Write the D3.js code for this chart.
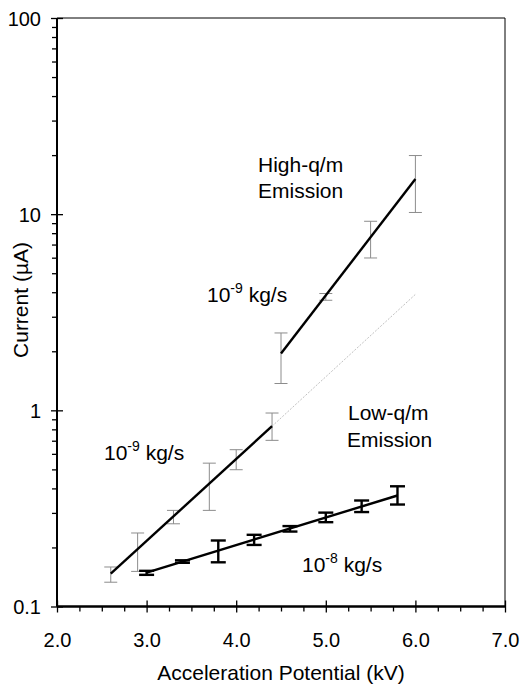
<!DOCTYPE html>
<html><head><meta charset="utf-8">
<script src="https://cdn.jsdelivr.net/npm/d3@7"></script>
<style>body{margin:0;background:#fff}svg{display:block}text{font-family:"Liberation Sans",Arial,sans-serif;fill:#000}</style>
</head><body>
<script>
// Low-q/m emission, 1e-9 kg/s (gray error bars)
const lowQ9X  = [2.6, 2.9, 3.3, 3.7, 4.0, 4.4];
const lowQ9Lo = [0.133, 0.151, 0.264, 0.309, 0.498, 0.703];
const lowQ9Hi = [0.159, 0.237, 0.309, 0.538, 0.630, 0.969];
const lowQ9Fit = [[2.6, 0.147], [4.4, 0.83]];
const lowQ9Ext = [[4.4, 0.83], [6.0, 3.9]];
// High-q/m emission, 1e-9 kg/s (gray error bars)
const highQ9X  = [4.5, 5.0, 5.5, 6.0];
const highQ9Lo = [1.37, 3.64, 5.98, 10.2];
const highQ9Hi = [2.48, 3.94, 9.2, 19.9];
const highQ9Fit = [[4.5, 1.95], [6.0, 15.1]];
// Low-q/m emission, 1e-8 kg/s (black error bars)
const lowQ8X  = [3.0, 3.4, 3.8, 4.2, 4.6, 5.0, 5.4, 5.8];
const lowQ8Lo = [0.145, 0.167, 0.168, 0.206, 0.241, 0.269, 0.303, 0.331];
const lowQ8Hi = [0.152, 0.172, 0.217, 0.232, 0.257, 0.301, 0.347, 0.410];
const lowQ8Fit = [[3.0, 0.149], [5.8, 0.368]];

const xTicks = [2, 3, 4, 5, 6, 7];
const xMinor = [2.25,2.5,2.75,3.25,3.5,3.75,4.25,4.5,4.75,5.25,5.5,5.75,6.25,6.5,6.75];
const yTicks = [0.1, 1, 10, 100];
const yTickLabels = ["0.1", "1", "10", "100"];
const yMinor = [0.2,0.3,0.4,0.5,0.6,0.7,0.8,0.9,2,3,4,5,6,7,8,9,20,30,40,50,60,70,80,90];

const W = 521, H = 684;
const L = 57, R = 505, T = 18, B = 606.5;
const svg = d3.select("body").append("svg").attr("width", W).attr("height", H);
const x = d3.scaleLinear().domain([2, 7]).range([L, R]);
const y = d3.scaleLog().domain([0.1, 100]).range([B, T]);

// frame
svg.append("line").attr("x1", L).attr("x2", R).attr("y1", T).attr("y2", T).attr("stroke", "#000").attr("stroke-width", 1);
svg.append("line").attr("x1", R).attr("x2", R).attr("y1", T).attr("y2", B).attr("stroke", "#000").attr("stroke-width", 1);

// x axis
const gx = svg.append("g").attr("transform", `translate(0,${B})`);
gx.call(d3.axisBottom(x).tickValues(xMinor).tickSize(5).tickFormat(""));
gx.append("g").call(d3.axisBottom(x).tickValues(xTicks).tickSize(6).tickFormat(d3.format(".1f")))
  .call(g => g.selectAll(".tick line").attr("y1", -6));
gx.selectAll(".domain").attr("stroke-width", 2).attr("d", `M${L},0H${R}`);
gx.selectAll(".tick line").attr("stroke", "#000").attr("stroke-width", 1.3);
gx.selectAll(".tick text").attr("font-size", 20).attr("y", 0).attr("dy", 0).attr("transform", "translate(0,40)")
  .style("font-family", '"Liberation Sans",Arial,sans-serif');

// y axis
const gy = svg.append("g").attr("transform", `translate(${L},0)`);
gy.call(d3.axisLeft(y).tickValues(yMinor).tickSize(5).tickFormat(""));
gy.append("g").call(d3.axisLeft(y).tickValues(yTicks).tickSize(6).tickFormat((d, i) => yTickLabels[i]))
  .call(g => g.selectAll(".tick line").attr("x1", 6));
gy.selectAll(".domain").attr("stroke-width", 2).attr("d", `M0,${T}V${B}`);
gy.selectAll(".tick line").attr("stroke", "#000").attr("stroke-width", 1.3);
gy.selectAll(".tick text").attr("font-size", 20).attr("x", -16).attr("dy", "0.36em")
  .style("font-family", '"Liberation Sans",Arial,sans-serif');

// titles
svg.append("text").attr("x", (L + R) / 2 + 0).attr("y", 680).attr("text-anchor", "middle").attr("font-size", 21)
  .text("Acceleration Potential (kV)");
svg.append("text").attr("transform", "translate(28,300) rotate(-90)").attr("text-anchor", "middle").attr("font-size", 21)
  .text("Current (µA)");

const line = d3.line().x(d => x(d[0])).y(d => y(d[1]));

function errBars(xs, lo, hi, color, sw, cap) {
  const g = svg.append("g").attr("stroke", color).attr("stroke-width", sw).attr("fill", "none");
  xs.forEach((v, i) => {
    g.append("line").attr("x1", x(v)).attr("x2", x(v)).attr("y1", y(lo[i])).attr("y2", y(hi[i]));
    g.append("line").attr("x1", x(v) - cap).attr("x2", x(v) + cap).attr("y1", y(lo[i])).attr("y2", y(lo[i]));
    g.append("line").attr("x1", x(v) - cap).attr("x2", x(v) + cap).attr("y1", y(hi[i])).attr("y2", y(hi[i]));
  });
}

errBars(lowQ9X, lowQ9Lo, lowQ9Hi, "#8c8c8c", 1, 6.5);
errBars(highQ9X, highQ9Lo, highQ9Hi, "#8c8c8c", 1, 6.5);
svg.append("path").attr("d", line(lowQ9Ext)).attr("stroke", "#b0b0b0").attr("stroke-width", 0.8)
  .attr("stroke-dasharray", "2,1.5").attr("fill", "none");
svg.append("path").attr("d", line(lowQ9Fit)).attr("stroke", "#000").attr("stroke-width", 2.4).attr("fill", "none");
svg.append("path").attr("d", line(highQ9Fit)).attr("stroke", "#000").attr("stroke-width", 2.4).attr("fill", "none");
errBars(lowQ8X, lowQ8Lo, lowQ8Hi, "#000", 2.4, 7.5);
svg.append("path").attr("d", line(lowQ8Fit)).attr("stroke", "#000").attr("stroke-width", 2.4).attr("fill", "none");

// annotations
function rateLabel(px, py, exp) {
  const t = svg.append("text").attr("x", px).attr("y", py).attr("font-size", 21);
  t.append("tspan").text("10");
  t.append("tspan").attr("font-size", 14).attr("dy", -9).text(exp);
  t.append("tspan").attr("dy", 9).text(" kg/s");
}
svg.append("text").attr("x", 258).attr("y", 172).attr("font-size", 21).text("High-q/m");
svg.append("text").attr("x", 258).attr("y", 198).attr("font-size", 21).text("Emission");
svg.append("text").attr("x", 348).attr("y", 420).attr("font-size", 21).text("Low-q/m");
svg.append("text").attr("x", 347).attr("y", 447).attr("font-size", 21).text("Emission");
rateLabel(207, 302, "-9");
rateLabel(104, 460, "-9");
rateLabel(302, 572, "-8");
</script>
</body></html>
